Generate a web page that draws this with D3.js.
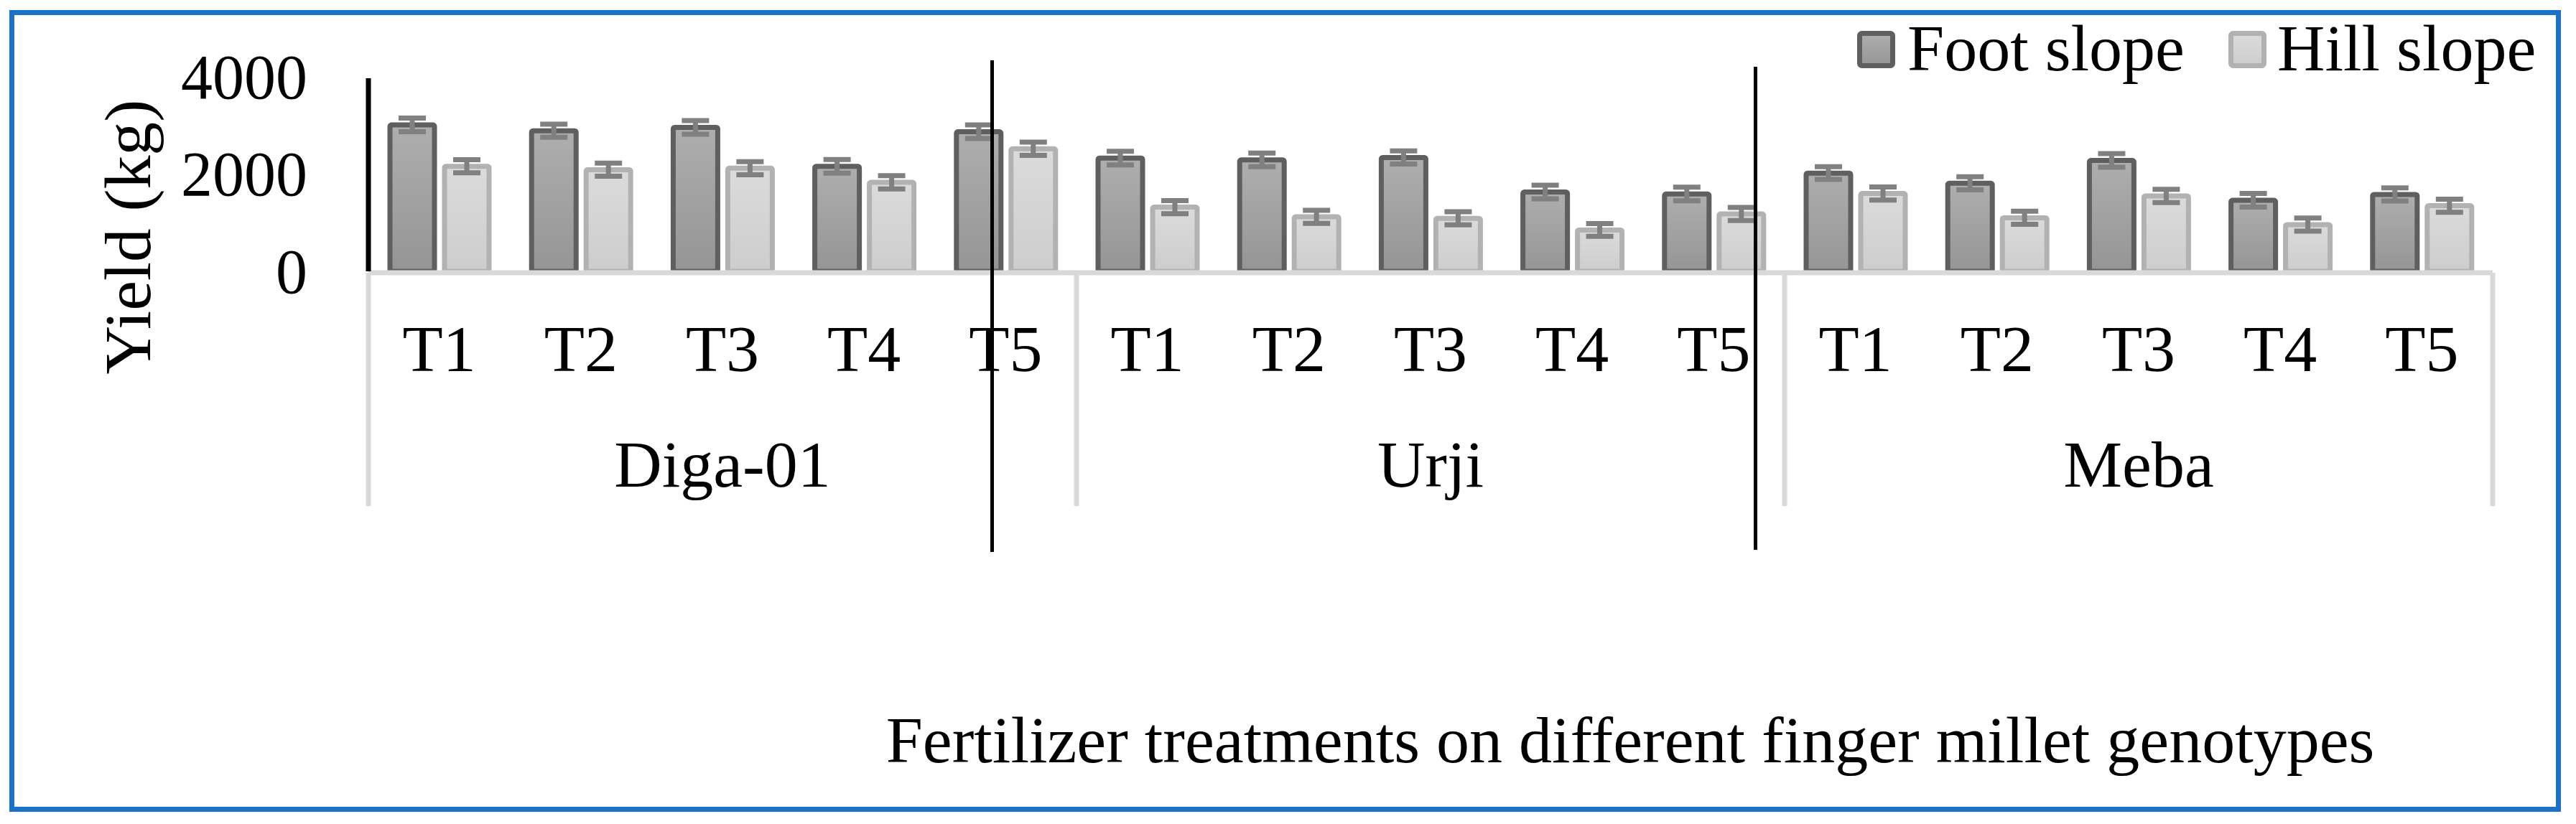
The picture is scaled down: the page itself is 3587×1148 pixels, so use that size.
<!DOCTYPE html>
<html lang="en">

<head>
    <meta charset="UTF-8">
    <title>Yield by fertilizer treatment</title>
    <style>
        html,
        body {
            margin: 0;
            padding: 0;
            background: #fff;
        }

        svg text {
            font-family: "Liberation Serif", "Times New Roman", serif;
            fill: #000;
        }
    </style>
</head>

<body>
    <div id="chart"></div>

    <script src="https://cdn.jsdelivr.net/npm/d3@7"></script>
    <script>
        // data
        const genotypes = ["Diga-01", "Urji", "Meba"];
        const treatments = ["T1", "T2", "T3", "T4", "T5"];
        const seriesNames = ["Foot slope", "Hill slope"];
        const footSlope = [3010, 2890, 2960, 2160, 2870, 2330, 2290, 2340, 1630, 1590, 2020, 1810, 2280, 1460, 1580];
        const hillSlope = [2160, 2090, 2120, 1830, 2520, 1320, 1120, 1090, 850, 1180, 1600, 1100, 1550, 960, 1350];
        const footErr = [140, 135, 140, 140, 140, 140, 140, 135, 140, 140, 130, 135, 140, 140, 135];
        const hillErr = [135, 135, 135, 135, 135, 135, 135, 135, 130, 135, 135, 135, 135, 135, 135];
        const yTicks = [0, 2000, 4000];

        const width = 3587, height = 1148;
        const left = 513, right = 3471, zeroY = 378, topY = 107;

        const svg = d3.select("#chart")
            .append("svg")
            .attr("width", width)
            .attr("height", height);

        svg.append("rect")
            .attr("width", width)
            .attr("height", height)
            .attr("fill", "#fff");

        // gradients for the two series
        const defs = svg.append("defs");
        const grads = [
            { id: "gFoot", top: "#aeaeae", bottom: "#959595" },
            { id: "gHill", top: "#dbdbdb", bottom: "#cdcdcd" }
        ];
        grads.forEach(function (g) {
            const lg = defs.append("linearGradient")
                .attr("id", g.id)
                .attr("x1", 0).attr("y1", 0)
                .attr("x2", 0).attr("y2", 1);
            lg.append("stop").attr("offset", "0%").attr("stop-color", g.top);
            lg.append("stop").attr("offset", "100%").attr("stop-color", g.bottom);
        });
        const fills = ["url(#gFoot)", "url(#gHill)"];
        const strokes = ["#5f5f5f", "#b2b2b2"];

        // outer blue frame
        svg.append("rect")
            .attr("x", 16.5)
            .attr("y", 17.5)
            .attr("width", 3546)
            .attr("height", 1110)
            .attr("fill", "none")
            .attr("stroke", "#1a73c9")
            .attr("stroke-width", 7);

        // scales
        const keys = [];
        genotypes.forEach(function (g) {
            treatments.forEach(function (t) { keys.push(g + "|" + t); });
        });
        const x0 = d3.scaleBand().domain(keys).range([left, right]);
        const xg = d3.scaleBand().domain(genotypes).range([left, right]);
        const x1 = d3.scaleBand().domain(seriesNames).range([30, 168]).paddingInner(0.184);
        const y = d3.scaleLinear().domain([0, 4000]).range([zeroY, topY]);

        const rows = keys.map(function (k, i) {
            return {
                key: k,
                values: [
                    { s: 0, v: footSlope[i], e: footErr[i] },
                    { s: 1, v: hillSlope[i], e: hillErr[i] }
                ]
            };
        });

        const g = svg.append("g");

        const cat = g.selectAll(".cat")
            .data(rows)
            .enter()
            .append("g")
            .attr("class", "cat")
            .attr("transform", function (d) { return "translate(" + x0(d.key) + ",0)"; });

        cat.selectAll("rect")
            .data(function (d) { return d.values; })
            .enter()
            .append("rect")
            .attr("x", function (d) { return x1(seriesNames[d.s]); })
            .attr("y", function (d) { return y(d.v); })
            .attr("width", x1.bandwidth())
            .attr("height", function (d) { return y(0) - y(d.v); })
            .attr("rx", 2)
            .attr("fill", function (d) { return fills[d.s]; })
            .attr("stroke", function (d) { return strokes[d.s]; })
            .attr("stroke-width", 7);

        // error bars
        const eb = cat.selectAll(".eb")
            .data(function (d) { return d.values; })
            .enter()
            .append("g")
            .attr("class", "eb")
            .attr("stroke", "#808080")
            .attr("stroke-width", 7);
        const cx = function (d) { return x1(seriesNames[d.s]) + x1.bandwidth() / 2; };
        eb.append("line")
            .attr("x1", cx).attr("x2", cx)
            .attr("y1", function (d) { return y(d.v + d.e); })
            .attr("y2", function (d) { return y(d.v - d.e); });
        [1, -1].forEach(function (sign) {
            eb.append("line")
                .attr("x1", function (d) { return cx(d) - 19; })
                .attr("x2", function (d) { return cx(d) + 19; })
                .attr("y1", function (d) { return y(d.v + sign * d.e); })
                .attr("y2", function (d) { return y(d.v + sign * d.e); });
        });

        // category axis: baseline and group separators
        g.append("line")
            .attr("x1", left).attr("x2", right)
            .attr("y1", 380).attr("y2", 380)
            .attr("stroke", "#d9d9d9")
            .attr("stroke-width", 7);
        const seps = genotypes.map(function (d) { return xg(d); }).concat([right]);
        g.selectAll(".sep")
            .data(seps)
            .enter()
            .append("line")
            .attr("x1", function (d) { return d; })
            .attr("x2", function (d) { return d; })
            .attr("y1", 380).attr("y2", 705)
            .attr("stroke", "#d9d9d9")
            .attr("stroke-width", 7);

        g.selectAll(".tLabel")
            .data(keys)
            .enter()
            .append("text")
            .attr("x", function (d) { return x0(d) + x0.bandwidth() / 2; })
            .attr("y", 517)
            .attr("text-anchor", "middle")
            .style("font-size", "92px")
            .text(function (d) { return d.split("|")[1]; });

        g.selectAll(".gLabel")
            .data(genotypes)
            .enter()
            .append("text")
            .attr("x", function (d) { return xg(d) + xg.bandwidth() / 2; })
            .attr("y", 678)
            .attr("text-anchor", "middle")
            .style("font-size", "92px")
            .text(function (d) { return d; });

        // value axis (labels only)
        const yAxis = g.append("g")
            .attr("transform", "translate(" + left + ",0)")
            .call(d3.axisLeft(y).tickValues(yTicks).tickFormat(d3.format("d")).tickSize(0).tickPadding(85));
        yAxis.select(".domain").remove();
        yAxis.selectAll("text")
            .attr("dy", "0.33em")
            .style("font-family", "'Liberation Serif', 'Times New Roman', serif")
            .style("font-size", "88px");

        // black hand-drawn lines
        g.append("line")
            .attr("x1", 513).attr("x2", 513)
            .attr("y1", 109).attr("y2", 378)
            .attr("stroke", "#000")
            .attr("stroke-width", 7);
        [{ x: 1381.5, y1: 84, y2: 769 }, { x: 2444.5, y1: 93, y2: 766 }].forEach(function (l) {
            g.append("line")
                .attr("x1", l.x).attr("x2", l.x)
                .attr("y1", l.y1).attr("y2", l.y2)
                .attr("stroke", "#000")
                .attr("stroke-width", 5);
        });

        // axis titles
        svg.append("text")
            .attr("transform", "translate(209,330) rotate(-90)")
            .attr("text-anchor", "middle")
            .attr("textLength", 383)
            .attr("lengthAdjust", "spacingAndGlyphs")
            .style("font-size", "92px")
            .text("Yield (kg)");
        svg.append("text")
            .attr("x", 2270)
            .attr("y", 1062)
            .attr("text-anchor", "middle")
            .style("font-size", "92px")
            .text("Fertilizer treatments on different finger millet genotypes");

        // legend
        const legendPos = [{ sx: 2586, tx: 2656 }, { sx: 3103, tx: 3171 }];
        const legend = svg.append("g");
        seriesNames.forEach(function (name, i) {
            legend.append("rect")
                .attr("x", legendPos[i].sx + 3.5)
                .attr("y", 46.5)
                .attr("width", 46)
                .attr("height", 45)
                .attr("rx", 3)
                .attr("fill", fills[i])
                .attr("stroke", strokes[i])
                .attr("stroke-width", 7);
            legend.append("text")
                .attr("x", legendPos[i].tx)
                .attr("y", 98)
                .style("font-size", "92px")
                .text(name);
        });
    </script>
</body>

</html>
